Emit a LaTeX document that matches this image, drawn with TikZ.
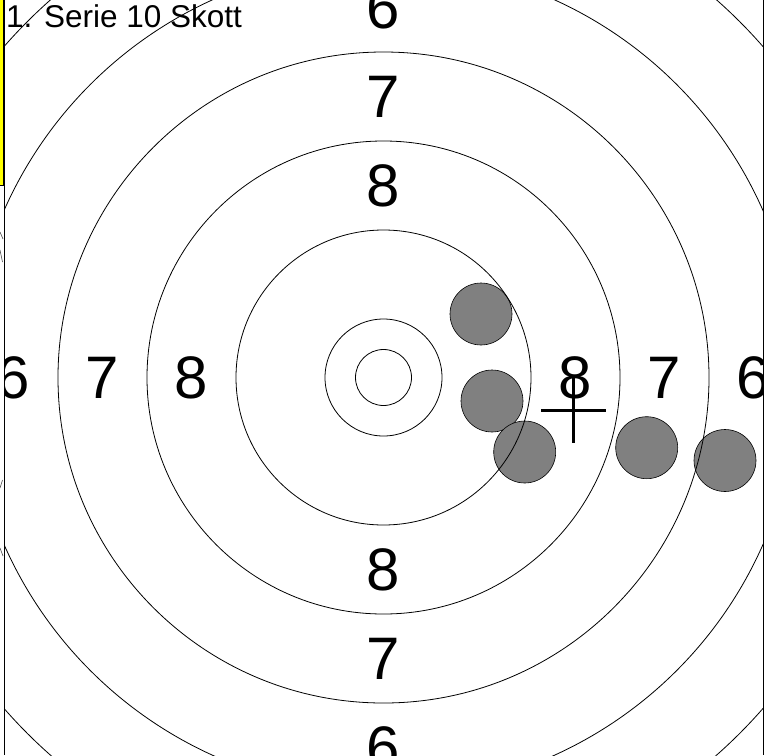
\documentclass[tikz,border=0pt]{standalone}
\usepackage{fontspec}
\setmainfont{Liberation Sans}
\definecolor{shotgray}{RGB}{128,128,128}
\definecolor{tagyellow}{RGB}{255,255,0}
\begin{document}
\begin{tikzpicture}[x=1pt,y=-1pt,
  ring/.style={draw=black,line width=0.8pt},
  shot/.style={circle,draw=black,line width=0.6pt,fill=shotgray,minimum size=62pt,inner sep=0pt},
  score/.style={font=\fontsize{60}{60}\selectfont,inner sep=0pt,anchor=center},
  frameline/.style={draw=black,line width=1.4pt},
  crossline/.style={draw=black,line width=2.6pt},
  edgebit/.style={draw=black!70,line width=0.6pt}]
\useasboundingbox (0,0) rectangle (765,755);
\fill[white] (0,0) rectangle (765,755);
% side tag (partly hidden)
\fill[tagyellow] (0,-1) rectangle (3,185);
\draw[black,line width=0.8pt] (3,-1) -- (3,185) -- (0,185);
\draw[edgebit] (0,232) -- (3,239);
\draw[edgebit] (0,250) -- (2.5,262);
\draw[edgebit] (0,488) -- (2.5,480);
\draw[edgebit] (0,548) -- (3,556);
\coordinate (c) at (383.5,377.5);
\begin{scope}
\clip (4.5,0) rectangle (763,755);
% shots
\node[shot] (s1) at (481,314) {};
\node[shot] (s2) at (492,401) {};
\node[shot] (s3) at (524.7,452) {};
\node[shot] (s4) at (646.7,447.7) {};
\node[shot] (s5) at (725,460.5) {};
% rings
\foreach \r in {28,58.5,147.5,236.5,325.5,414.5,503.5}
  \draw[ring] (c) circle[radius=\r pt];
% ring numbers
\node[score] (l8) at (191.5,377.5) {8};
\node[score] (l7) at (102.5,377.5) {7};
\node[score] (l6) at (13.5,377.5) {6};
\node[score] (r8) at (575.5,377.5) {8};
\node[score] (r7) at (664.5,377.5) {7};
\node[score] (r6) at (753.5,377.5) {6};
\node[score] (t8) at (383.5,185.5) {8};
\node[score] (t7) at (383.5,96.5) {7};
\node[score] (t6) at (383.5,7.5) {6};
\node[score] (b8) at (383.5,569.5) {8};
\node[score] (b7) at (383.5,658.5) {7};
\node[score] (b6) at (383.5,747.5) {6};
% mean point of impact
\coordinate (mean) at (573.5,410.5);
\draw[crossline] ([xshift=-32.5pt]mean) -- ([xshift=32.5pt]mean);
\draw[crossline] ([yshift=32.5pt]mean) -- ([yshift=-32.5pt]mean);
\end{scope}
% frame
\draw[frameline] (4.5,0) -- (4.5,755);
\draw[frameline] (763.3,0) -- (763.3,755);
% title
\node[font=\fontsize{31.5}{31.5}\selectfont,inner sep=0pt,anchor=base west] (title) at (6,27) {1. Serie 10 Skott};
\end{tikzpicture}
\end{document}
